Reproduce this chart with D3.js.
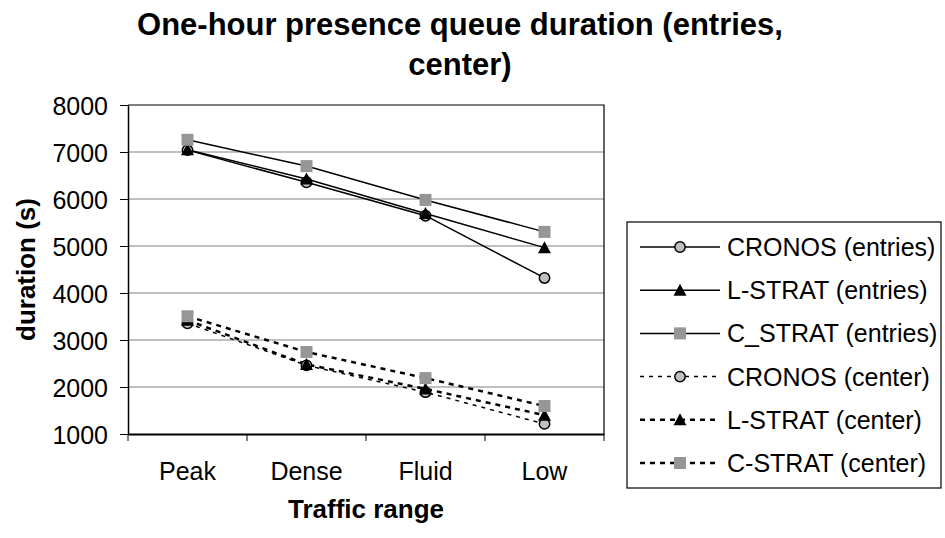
<!DOCTYPE html>
<html><head><meta charset="utf-8">
<script src="https://cdn.jsdelivr.net/npm/d3@7"></script>
<style>body{margin:0;background:#fff}svg{display:block}text{font-family:Arial,"Liberation Sans",sans-serif;fill:#000}</style>
</head><body>
<script>
const categories = ["Peak", "Dense", "Fluid", "Low"];
const seriesNames = ["CRONOS (entries)", "L-STRAT (entries)", "C_STRAT (entries)", "CRONOS (center)", "L-STRAT (center)", "C-STRAT (center)"];
const cronosEntries = [7040, 6355, 5645, 4320];
const lstratEntries = [7050, 6425, 5690, 4965];
const cstratEntries = [7260, 6700, 5980, 5300];
const cronosCenter = [3355, 2460, 1890, 1215];
const lstratCenter = [3420, 2480, 1960, 1400];
const cstratCenter = [3505, 2745, 2190, 1595];
const yTicks = [1000, 2000, 3000, 4000, 5000, 6000, 7000, 8000];
const titleLines = ["One-hour presence queue duration (entries,", "center)"];

const W = 945, H = 538;
const svg = d3.select("body").append("svg").attr("width", W).attr("height", H);
const L = 128, R = 604, T = 105, B = 434;
const x = d3.scaleBand().domain(categories).range([L, R]);
const y = d3.scaleLinear().domain([1000, 8000]).range([B, T]);

const styles = [
  {marker: "circle", dash: null, w: 1.5},
  {marker: "triangle", dash: null, w: 1.5},
  {marker: "square", dash: null, w: 1.5},
  {marker: "circle", dash: "4,5", w: 1.5},
  {marker: "triangle", dash: "5,5", w: 2.5},
  {marker: "square", dash: "5,5", w: 2.5}
];
const data = [cronosEntries, lstratEntries, cstratEntries, cronosCenter, lstratCenter, cstratCenter];

// gridlines
svg.append("g").selectAll("line").data(yTicks.slice(1, -1)).join("line")
  .attr("x1", L).attr("x2", R).attr("y1", d => y(d)).attr("y2", d => y(d))
  .attr("stroke", "#808080").attr("stroke-width", 1);
// border top & right
svg.append("path").attr("d", `M${L},${y(8000)}H${R}V${B}`).attr("fill", "none").attr("stroke", "#000").attr("stroke-width", 1.2);

// y axis
const ya = svg.append("g").attr("transform", `translate(${L},0)`)
  .call(d3.axisLeft(y).tickValues(yTicks).tickFormat(d3.format("d")).tickSize(8).tickPadding(12).tickSizeOuter(0));
ya.select(".domain").attr("stroke", "#000").attr("stroke-width", 1.5);
ya.selectAll(".tick line").attr("stroke", "#000");
ya.selectAll("text").style("font-size", "25px").attr("dy", "0.36em");

// x axis
const xa = svg.append("g").attr("transform", `translate(0,${B})`)
  .call(d3.axisBottom(x).tickSize(0).tickPadding(28).tickSizeOuter(0));
xa.select(".domain").attr("stroke", "#000").attr("stroke-width", 2.2);
xa.selectAll("text").style("font-size", "25px").attr("dy", "0.71em");
const bounds = categories.map(c => x(c)).concat([x(categories[categories.length - 1]) + x.bandwidth()]);
svg.append("g").selectAll("line").data(bounds).join("line")
  .attr("x1", d => d).attr("x2", d => d).attr("y1", B).attr("y2", B + 7)
  .attr("stroke", "#000").attr("stroke-width", 1);

const cx = c => x(c) + x.bandwidth() / 2;

function drawMarker(g, type, px, py) {
  if (type === "circle") {
    g.append("circle").attr("cx", px).attr("cy", py).attr("r", 5.2)
      .attr("fill", "#c0c0c0").attr("stroke", "#000").attr("stroke-width", 1.5);
  } else if (type === "triangle") {
    const s = 6.5;
    g.append("path").attr("d", `M${px},${py - s}L${px + s},${py + s * 0.85}L${px - s},${py + s * 0.85}Z`).attr("fill", "#000");
  } else {
    g.append("rect").attr("x", px - 6).attr("y", py - 6).attr("width", 12).attr("height", 12).attr("fill", "#969696");
  }
}

const line = d3.line().x((d, i) => cx(categories[i])).y(d => y(d));
data.forEach((vals, si) => {
  const st = styles[si];
  svg.append("path").attr("d", line(vals)).attr("fill", "none").attr("stroke", "#000")
    .attr("stroke-width", st.w).attr("stroke-dasharray", st.dash);
});
data.forEach((vals, si) => {
  const g = svg.append("g");
  vals.forEach((v, i) => drawMarker(g, styles[si].marker, cx(categories[i]), y(v)));
});

// titles
svg.append("text").attr("text-anchor", "middle").attr("font-weight", "bold").style("font-size", "31px")
  .selectAll("tspan").data(titleLines).join("tspan")
  .attr("x", 460).attr("y", (d, i) => 35 + i * 40).text(d => d);
svg.append("text").attr("text-anchor", "middle").attr("font-weight", "bold").style("font-size", "26px")
  .attr("x", (L + R) / 2).attr("y", 518).text("Traffic range");
svg.append("text").attr("text-anchor", "middle").attr("font-weight", "bold").style("font-size", "26px")
  .attr("transform", `translate(35,${(T + B) / 2}) rotate(-90)`).text("duration (s)");

// legend
const lg = svg.append("g");
lg.append("rect").attr("x", 627).attr("y", 222).attr("width", 314).attr("height", 266)
  .attr("fill", "#fff").attr("stroke", "#000").attr("stroke-width", 1.2);
seriesNames.forEach((name, i) => {
  const ly = 247 + i * 43.2;
  const st = styles[i];
  lg.append("line").attr("x1", 640).attr("x2", 720).attr("y1", ly).attr("y2", ly)
    .attr("stroke", "#000").attr("stroke-width", st.w).attr("stroke-dasharray", st.dash);
  drawMarker(lg, st.marker, 680, ly);
  lg.append("text").attr("x", 727).attr("y", ly).attr("dy", "0.36em").style("font-size", "25px").text(name);
});
</script>
</body></html>
